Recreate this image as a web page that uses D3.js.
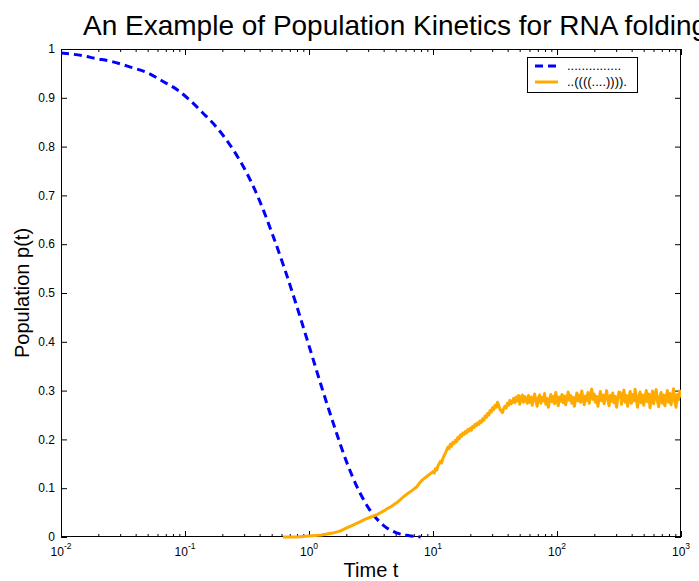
<!DOCTYPE html>
<html>
<head>
<meta charset="utf-8">
<script src="https://cdn.jsdelivr.net/npm/d3@7"></script>
<style>
  html, body { margin: 0; padding: 0; background: #fff; }
  svg { display: block; font-family: "Liberation Sans", Arial, Helvetica, sans-serif; }
</style>
</head>
<body>
<svg id="chart" width="699" height="581"></svg>
<script>
// Population of each structure over time; each point is [log10(t), p(t)]
const structureLabels = ["...............", "..((((....))))."];
const seriesColors = ["#0000ff", "#ffaa00"];

const openChain = [
  [-2.00, 0.992], [-1.80, 0.985], [-1.73, 0.981], [-1.60, 0.975], [-1.44, 0.963],
  [-1.30, 0.951], [-1.18, 0.934], [-1.06, 0.916], [-0.96, 0.895], [-0.86, 0.870],
  [-0.74, 0.838], [-0.61, 0.793], [-0.50, 0.745], [-0.40, 0.690], [-0.30, 0.624],
  [-0.20, 0.552], [-0.10, 0.474], [0.00, 0.392], [0.10, 0.309], [0.20, 0.230],
  [0.30, 0.156], [0.40, 0.096], [0.50, 0.052], [0.60, 0.024], [0.70, 0.009],
  [0.80, 0.003], [0.90, 0.000]
];

const hairpin = [
  [-0.21, 0.000], [-0.10, 0.000], [0.00, 0.002], [0.10, 0.004], [0.19, 0.008],
  [0.25, 0.012], [0.30, 0.018], [0.35, 0.024], [0.41, 0.031], [0.45, 0.036],
  [0.50, 0.041], [0.55, 0.046], [0.60, 0.053], [0.63, 0.058], [0.66, 0.062],
  [0.70, 0.069], [0.73, 0.075], [0.76, 0.082], [0.79, 0.088], [0.82, 0.093],
  [0.85, 0.099], [0.87, 0.103], [0.89, 0.110], [0.91, 0.116], [0.93, 0.120],
  [0.95, 0.124], [0.97, 0.128],
  [1.00, 0.134], [1.01, 0.131], [1.02, 0.140], [1.03, 0.137], [1.04, 0.146],
  [1.05, 0.150], [1.06, 0.155], [1.07, 0.152], [1.08, 0.161], [1.09, 0.167],
  [1.10, 0.172], [1.11, 0.178], [1.12, 0.184], [1.13, 0.181], [1.14, 0.190],
  [1.15, 0.186], [1.16, 0.194], [1.17, 0.192], [1.18, 0.198], [1.19, 0.195],
  [1.20, 0.204], [1.21, 0.201], [1.22, 0.209], [1.23, 0.206], [1.24, 0.213],
  [1.25, 0.210], [1.26, 0.216], [1.27, 0.213], [1.28, 0.220], [1.29, 0.217],
  [1.30, 0.223], [1.31, 0.219], [1.32, 0.227], [1.33, 0.224], [1.34, 0.231],
  [1.35, 0.228], [1.36, 0.234], [1.37, 0.231], [1.38, 0.238], [1.39, 0.235],
  [1.40, 0.242], [1.41, 0.239], [1.42, 0.248], [1.43, 0.245], [1.44, 0.253],
  [1.45, 0.250], [1.46, 0.259], [1.47, 0.256], [1.48, 0.265], [1.49, 0.261],
  [1.50, 0.270], [1.51, 0.266], [1.52, 0.276], [1.53, 0.270], [1.54, 0.262],
  [1.55, 0.258], [1.56, 0.255], [1.57, 0.263], [1.58, 0.268], [1.59, 0.264],
  [1.60, 0.274], [1.61, 0.270], [1.62, 0.280], [1.63, 0.273], [1.64, 0.277],
  [1.65, 0.284], [1.66, 0.275], [1.67, 0.287], [1.68, 0.279], [1.69, 0.290],
  [1.70, 0.272], [1.71, 0.285], [1.72, 0.291], [1.73, 0.276], [1.74, 0.288],
  [1.75, 0.282], [1.76, 0.274], [1.77, 0.290], [1.78, 0.276], [1.79, 0.287],
  [1.80, 0.270], [1.81, 0.283], [1.82, 0.293], [1.83, 0.279], [1.84, 0.268],
  [1.85, 0.285], [1.86, 0.291], [1.87, 0.274], [1.88, 0.286], [1.89, 0.279],
  [1.90, 0.294], [1.91, 0.272], [1.92, 0.284], [1.93, 0.266], [1.94, 0.281],
  [1.95, 0.292], [1.96, 0.277], [1.97, 0.288], [1.98, 0.273], [1.99, 0.296],
  [2.00, 0.282], [2.01, 0.269], [2.02, 0.287], [2.03, 0.278], [2.04, 0.292],
  [2.05, 0.275], [2.06, 0.289], [2.07, 0.271], [2.08, 0.284], [2.09, 0.297],
  [2.10, 0.280], [2.11, 0.290], [2.12, 0.274], [2.13, 0.286], [2.14, 0.268],
  [2.15, 0.283], [2.16, 0.295], [2.17, 0.279], [2.18, 0.291], [2.19, 0.276],
  [2.20, 0.299], [2.21, 0.284], [2.22, 0.271], [2.23, 0.289], [2.24, 0.280],
  [2.25, 0.296], [2.26, 0.274], [2.27, 0.290], [2.28, 0.303], [2.29, 0.282],
  [2.30, 0.293], [2.31, 0.276], [2.32, 0.288], [2.33, 0.268], [2.34, 0.285],
  [2.35, 0.298], [2.36, 0.279], [2.37, 0.291], [2.38, 0.273], [2.39, 0.287],
  [2.40, 0.300], [2.41, 0.281], [2.42, 0.269], [2.43, 0.290], [2.44, 0.278],
  [2.45, 0.295], [2.46, 0.275], [2.47, 0.288], [2.48, 0.266], [2.49, 0.284],
  [2.50, 0.297], [2.51, 0.296], [2.52, 0.272], [2.53, 0.289], [2.54, 0.301],
  [2.55, 0.276], [2.56, 0.290], [2.57, 0.268], [2.58, 0.285], [2.59, 0.298],
  [2.60, 0.274], [2.61, 0.292], [2.62, 0.279], [2.63, 0.303], [2.64, 0.283],
  [2.65, 0.266], [2.66, 0.288], [2.67, 0.297], [2.68, 0.275], [2.69, 0.291],
  [2.70, 0.270], [2.71, 0.286], [2.72, 0.300], [2.73, 0.277], [2.74, 0.293],
  [2.75, 0.265], [2.76, 0.284], [2.77, 0.299], [2.78, 0.273], [2.79, 0.290],
  [2.80, 0.302], [2.81, 0.279], [2.82, 0.267], [2.83, 0.288], [2.84, 0.296],
  [2.85, 0.274], [2.86, 0.291], [2.87, 0.269], [2.88, 0.285], [2.89, 0.300],
  [2.90, 0.276], [2.91, 0.294], [2.92, 0.271], [2.93, 0.289], [2.94, 0.304],
  [2.95, 0.278], [2.96, 0.266], [2.97, 0.292], [2.98, 0.281], [2.99, 0.299],
  [3.00, 0.286]
];

const xDomain = [1e-2, 1e3];
const yTicks = [0, 0.1, 0.2, 0.3, 0.4, 0.5, 0.6, 0.7, 0.8, 0.9, 1];
const decadeExponents = [-2, -1, 0, 1, 2, 3];

const titleText = "An Example of Population Kinetics for RNA folding";
const xLabel = "Time t";
const yLabel = "Population p(t)";

// Layout
const svg = d3.select("#chart");
const plot = { left: 61, right: 681, top: 49, bottom: 537 };

const x = d3.scaleLog().domain(xDomain).range([plot.left, plot.right]);
const y = d3.scaleLinear().domain([0, 1]).range([plot.bottom, plot.top]);

const clipId = "plot-clip";
svg.append("defs").append("clipPath").attr("id", clipId)
  .append("rect")
  .attr("x", plot.left).attr("y", plot.top - 4)
  .attr("width", plot.right - plot.left).attr("height", plot.bottom - plot.top + 6);

// Axes: ticks point inward on all four sides
const majorX = decadeExponents.map(e => Math.pow(10, e));
const minorX = x.ticks().filter(t => !majorX.some(m => Math.abs(m - t) / m < 1e-9));

function styleAxis(g) {
  g.select(".domain").remove();
  g.selectAll(".tick line").attr("stroke", "#000").attr("stroke-width", 1);
  g.selectAll(".tick text").remove();
}

svg.append("g")
  .attr("transform", `translate(0,${plot.bottom})`)
  .call(d3.axisBottom(x).tickValues(minorX).tickSizeInner(-3).tickSizeOuter(0))
  .call(styleAxis);
svg.append("g")
  .attr("transform", `translate(0,${plot.top})`)
  .call(d3.axisTop(x).tickValues(minorX).tickSizeInner(-3).tickSizeOuter(0))
  .call(styleAxis);
svg.append("g")
  .attr("transform", `translate(0,${plot.bottom})`)
  .call(d3.axisBottom(x).tickValues(majorX).tickSizeInner(-6).tickSizeOuter(0))
  .call(styleAxis);
svg.append("g")
  .attr("transform", `translate(0,${plot.top})`)
  .call(d3.axisTop(x).tickValues(majorX).tickSizeInner(-6).tickSizeOuter(0))
  .call(styleAxis);
svg.append("g")
  .attr("transform", `translate(${plot.left},0)`)
  .call(d3.axisLeft(y).tickValues(yTicks).tickSizeInner(-6).tickSizeOuter(0))
  .call(styleAxis);
svg.append("g")
  .attr("transform", `translate(${plot.right},0)`)
  .call(d3.axisRight(y).tickValues(yTicks).tickSizeInner(-6).tickSizeOuter(0))
  .call(styleAxis);

// Frame
svg.append("rect")
  .attr("x", plot.left + 0.5).attr("y", plot.top + 0.5)
  .attr("width", plot.right - plot.left - 1).attr("height", plot.bottom - plot.top - 1)
  .attr("fill", "none").attr("stroke", "#000").attr("stroke-width", 1);

// Curves, drawn over the frame so zero values stay visible on the axis
const line = d3.line()
  .x(d => x(Math.pow(10, d[0])))
  .y(d => y(d[1]));

const curves = svg.append("g").attr("clip-path", `url(#${clipId})`);

curves.append("path")
  .datum(openChain)
  .attr("fill", "none")
  .attr("stroke", seriesColors[0])
  .attr("stroke-width", 3)
  .attr("stroke-dasharray", "8,5")
  .attr("d", line.curve(d3.curveMonotoneX));

curves.append("path")
  .datum(hairpin)
  .attr("fill", "none")
  .attr("stroke", seriesColors[1])
  .attr("stroke-width", 3)
  .attr("stroke-linejoin", "round")
  .attr("d", line.curve(d3.curveLinear));

// Y tick labels
svg.append("g").selectAll("text")
  .data(yTicks)
  .join("text")
  .attr("x", plot.left - 6)
  .attr("y", d => y(d))
  .attr("dy", "0.35em")
  .attr("text-anchor", "end")
  .attr("font-size", 12)
  .text(d => d3.format("~g")(d));

// X tick labels as powers of ten
const xLabels = svg.append("g").selectAll("text")
  .data(decadeExponents)
  .join("text")
  .attr("x", d => x(Math.pow(10, d)))
  .attr("y", plot.bottom + 19)
  .attr("text-anchor", "middle")
  .attr("font-size", 12);
xLabels.append("tspan").text("10");
xLabels.append("tspan")
  .attr("dy", -7)
  .attr("font-size", 8.5)
  .text(d => String(d));

// Title and axis labels
svg.append("text")
  .attr("x", 83).attr("y", 35)
  .attr("font-size", 28)
  .text(titleText);

svg.append("text")
  .attr("x", (plot.left + plot.right) / 2).attr("y", 577)
  .attr("text-anchor", "middle")
  .attr("font-size", 20)
  .text(xLabel);

svg.append("text")
  .attr("transform", `translate(29,${(plot.top + plot.bottom) / 2}) rotate(-90)`)
  .attr("text-anchor", "middle")
  .attr("font-size", 20)
  .text(yLabel);

// Legend
const legend = svg.append("g").attr("transform", "translate(527,57)");
legend.append("rect")
  .attr("x", 0.5).attr("y", 0.5).attr("width", 110).attr("height", 35)
  .attr("fill", "#fff").attr("stroke", "#000").attr("stroke-width", 1);
const rows = legend.selectAll("g.row")
  .data(structureLabels)
  .join("g")
  .attr("class", "row")
  .attr("transform", (d, i) => `translate(0,${9 + i * 16})`);
rows.append("line")
  .attr("x1", 8).attr("x2", 31)
  .attr("stroke", (d, i) => seriesColors[i])
  .attr("stroke-width", 3)
  .attr("stroke-dasharray", (d, i) => i === 0 ? "8,5" : null);
rows.append("text")
  .attr("x", 40).attr("y", 4)
  .attr("font-size", 13)
  .text(d => d);
</script>
</body>
</html>
